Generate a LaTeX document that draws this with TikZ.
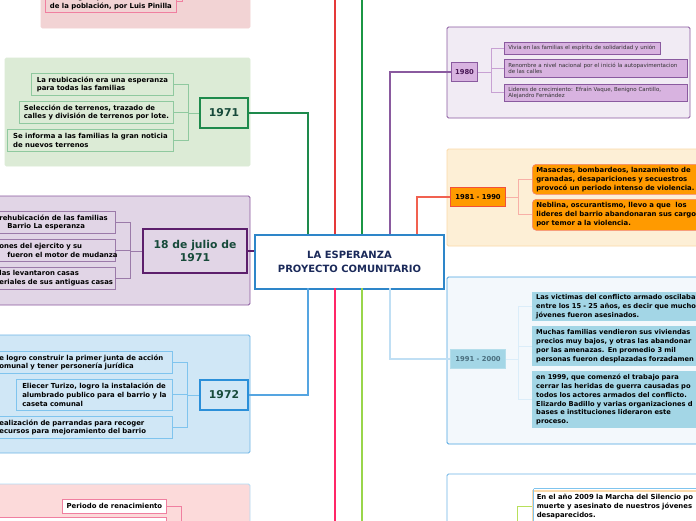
\documentclass[tikz,border=0pt]{standalone}
\usepackage{fontspec}
\setmainfont{DejaVu Sans}
\usetikzlibrary{positioning}
\definecolor{gdark}{HTML}{1E8A4C}
\definecolor{gbg}{HTML}{DCEBD6}
\definecolor{gbord}{HTML}{8FC99F}
\definecolor{pdark}{HTML}{5C1E6C}
\definecolor{pbg}{HTML}{E1D5E6}
\definecolor{pbord}{HTML}{9B7AA9}
\definecolor{bdark}{HTML}{2A8FD9}
\definecolor{bbg}{HTML}{D0E7F6}
\definecolor{bbord}{HTML}{7FC4EE}
\definecolor{txtg}{HTML}{174A3A}
\definecolor{pinkbg}{HTML}{F2D3D4}
\definecolor{pinkbg2}{HTML}{FCDADA}
\definecolor{pinkb}{HTML}{F07FA0}
\definecolor{lavbg}{HTML}{F1EBF4}
\definecolor{lavb}{HTML}{8A5A9F}
\definecolor{lavfill}{HTML}{D8B3E0}
\definecolor{orbg}{HTML}{FDEFD6}
\definecolor{orb}{HTML}{FBD9A8}
\definecolor{orfill}{HTML}{FF9A00}
\definecolor{orred}{HTML}{F0503C}
\definecolor{blbg}{HTML}{F3F8FC}
\definecolor{blb}{HTML}{4AA3E0}
\definecolor{blfill}{HTML}{A3D6E6}
\definecolor{yrtxt}{HTML}{4A6F7F}
\definecolor{mainb}{HTML}{2E86C9}
\definecolor{navy}{HTML}{1B2A5A}
\newcommand\clipline[1]{\makebox[0pt][l]{#1}}
\tikzset{
  base/.style={draw, inner xsep=4pt, inner ysep=2pt, align=left, anchor=north west,
    font=\fontsize{6.9}{8.8}\selectfont\bfseries, text=black},
  gchild/.style={base, draw=gbord, fill=gbg, line width=0.8pt},
  pchild/.style={base, draw=pbord, fill=pbg, line width=0.8pt},
  bchild/.style={base, draw=bbord, fill=bbg, line width=0.8pt},
  lchild/.style={base, draw=lavb, fill=lavfill, line width=0.6pt, font=\fontsize{5.5}{6.6}\selectfont, text=black!80},
  ochild/.style={base, draw=orred!70, fill=orfill, line width=0.6pt, rounded corners=4pt},
  cchild/.style={base, draw=none, fill=blfill, font=\fontsize{6.7}{8.8}\selectfont\bfseries},
  yearbox/.style={draw, anchor=north west, inner sep=0pt, align=center, line width=2pt,
    font=\fontsize{10.8}{13}\selectfont\bfseries, text=txtg},
  smallyear/.style={draw, anchor=north west, inner sep=0pt, align=center, line width=1pt,
    font=\fontsize{6.8}{8}\selectfont\bfseries},
  panel/.style={rounded corners=1.5pt, line width=0.8pt},
  mline/.style={line width=1.5pt},
  brk/.style={line width=1pt},
}
\begin{document}
\begin{tikzpicture}[x=1pt,y=-1pt]
\useasboundingbox (0,0) rectangle (696,520);
\fill[white] (0,0) rectangle (696,520);
\clip (0,0) rectangle (696,520);

% ---------- panels ----------
\draw[panel, fill=pinkbg, draw=pinkbg] (41,-10) rectangle (250,28);
\draw[panel, fill=gbg, draw=gbg] (5,58) rectangle (250,166);
\draw[panel, fill=pbg, draw=lavb] (-5,196) rectangle (250,305);
\draw[panel, fill=bbg, draw=blb!80] (-5,335) rectangle (250,453);
\draw[panel, fill=pinkbg2, draw=bbord!60] (-5,484) rectangle (250,530);
\draw[panel, fill=lavbg, draw=lavb] (447,27) rectangle (690,118);
\draw[panel, fill=orbg, draw=orb] (447,149) rectangle (705,246);
\draw[panel, fill=blbg, draw=blb] (447,277) rectangle (705,444);
\draw[panel, fill=white, draw=blb!80] (447,474) rectangle (705,530);

% ---------- central node ----------
\node[draw=mainb, line width=2pt, fill=white, anchor=north west, minimum width=189pt, minimum height=54pt,
  inner sep=0pt, align=center, font=\fontsize{10}{14}\selectfont\bfseries, text=navy]
  (main) at (254,234) {LA ESPERANZA\\PROYECTO COMUNITARIO};

% ---------- top-left pink ----------
\node[base, draw=pinkb, fill=pinkbg, line width=0.8pt, minimum width=131pt, minimum height=22pt, anchor=south west]
  (tl) at (45,13) {estrategias para reubicación\\de la población, por Luis Pinilla};
\draw[brk, pinkb] (tl.east) -| (182,-5) coordinate (tlup);

% ---------- 1971 ----------
\node[yearbox, draw=gdark, fill=gbg, minimum width=48pt, minimum height=30pt] (y1971) at (199,97) {1971};
\node[gchild, minimum width=142pt, minimum height=22pt] (g1) at (31,73) {La reubicación era una esperanza\\para todas las familias};
\node[gchild, minimum width=154pt, minimum height=22pt] (g2) at (19,101) {Selección de terrenos, trazado de\\calles y división de terrenos por lote.};
\node[gchild, minimum width=166pt, minimum height=22pt] (g3) at (7,129) {Se informa a las familias la gran noticia\\de nuevos terrenos};
\draw[brk, gbord] (y1971.west) -- ++(-11,0) coordinate (gb);
\foreach \c in {g1,g2,g3} \draw[brk, gbord] (gb) |- (\c.east);

% ---------- 18 de julio ----------
\node[yearbox, draw=pdark, fill=pbg, minimum width=104pt, minimum height=44pt] (y18) at (142,228) {18 de julio de\\1971};
\node[pchild, text width=112pt, minimum height=22pt] (p1) at (-5,211) {\clipline{rehubicación de las familias}\\\clipline{\hspace*{8pt}Barrio La esperanza}};
\node[pchild, text width=112pt, minimum height=22pt] (p2) at (-5,239) {\clipline{ones del ejercito y su}\\\clipline{\hspace*{8pt}fueron el motor de mudanza}};
\node[pchild, text width=112pt, minimum height=22pt] (p3) at (-5,267) {\clipline{las levantaron casas}\\\clipline{eriales de sus antiguas casas}};
\draw[brk, pbord] (y18.west) -- ++(-12,0) coordinate (pb);
\foreach \c in {p1,p2,p3} \draw[brk, pbord] (pb) |- (\c.east);
\draw[mline, pdark] (y18.east) -- (y18.east -| main.west);

% ---------- 1972 ----------
\node[yearbox, draw=bdark, fill=bbg, minimum width=48pt, minimum height=30pt] (y1972) at (199,379) {1972};
\node[bchild, text width=169pt, minimum height=22pt] (b1) at (-5,351) {\clipline{e logro construir la primer junta de acción}\\\clipline{omunal y tener personería jurídica}};
\node[bchild, minimum width=156pt, minimum height=31pt] (b2) at (16,379) {Eliecer Turizo, logro la instalación de\\alumbrado publico para el barrio y la\\caseta comunal};
\node[bchild, text width=169pt, minimum height=22pt] (b3) at (-5,416) {\clipline{ealización de parrandas para recoger}\\\clipline{ecursos para mejoramiento del barrio}};
\draw[brk, bbord] (y1972.west) -- ++(-12,0) coordinate (bb);
\foreach \c in {b1,b2,b3} \draw[brk, bbord] (bb) |- (\c.east);

% ---------- bottom-left pink ----------
\node[base, draw=pinkb, fill=white, line width=0.8pt, minimum width=104pt, minimum height=14pt, inner ysep=0pt, align=center]
  (ren) at (62,499) {Periodo de renacimiento};
\node[base, draw=pinkb, fill=white, line width=0.8pt, minimum width=171pt, minimum height=20pt] (ren2) at (-5,517) {};
\draw[brk, pinkb] (ren.east) -| (181,525);

% ---------- 1980 ----------
\node[smallyear, draw=lavb, fill=lavfill, text=pdark!80!black, minimum width=26pt, minimum height=19pt] (y1980) at (451,62) {1980};
\node[lchild, text width=148pt, minimum height=12pt, inner ysep=1pt] (l1) at (504,42) {\clipline{Vivia en las familias el espíritu de solidaridad y unión}};
\node[lchild, text width=175pt, minimum height=18pt, inner ysep=1pt] (l2) at (504,59) {\clipline{Renombre a nivel nacional por el inició la autopavimentacion}\\de las calles};
\node[lchild, text width=175pt, minimum height=17pt, inner ysep=1pt] (l3) at (504,84) {\clipline{Lideres de crecimiento: Efraín Vaque, Benigno Cantillo,}\\Alejandro Fernández};
\draw[brk, lavfill!80!lavb] (y1980.east) -- ++(13,0) coordinate (lb);
\foreach \c in {l1,l2,l3} \draw[brk, lavfill!80!lavb] (lb) |- (\c.west);

% ---------- 1981-1990 ----------
\node[smallyear, draw=orred, fill=orfill, text=black, minimum width=55pt, minimum height=19pt] (y1981) at (450,187) {1981 - 1990};
\node[ochild, text width=200pt, minimum height=30pt] (o1) at (532,164) {Masacres, bombardeos, lanzamiento de\\granadas, desapariciones y secuestros\\provocó un periodo intenso de violencia.};
\node[ochild, text width=200pt, minimum height=31pt] (o2) at (532,199) {Neblina, oscurantismo, llevo a que\ \ los\\lideres del barrio abandonaran sus cargo\\por temor a la violencia.};
\draw[brk, orred!45] (y1981.east) -- ++(12,0) coordinate (ob);
\foreach \c in {o1,o2} \draw[brk, orred!45] (ob) |- (\c.west);

% ---------- 1991-2000 ----------
\node[smallyear, draw=blfill!80!white, fill=blfill, text=yrtxt, minimum width=55pt, minimum height=19pt] (y1991) at (450,349) {1991 - 2000};
\node[cchild, text width=200pt, minimum height=29pt] (c1) at (532,292) {Las victimas del conflicto armado oscilaba\\entre los 15 - 25 años, es decir que muchos\\jóvenes fueron asesinados.};
\node[cchild, text width=200pt, minimum height=40pt] (c2) at (532,326) {Muchas familias vendieron sus viviendas\\precios muy bajos, y otras las abandonar\\por las amenazas. En promedio 3 mil\\personas fueron desplazadas forzadamen};
\node[cchild, text width=200pt, minimum height=57pt] (c3) at (532,371) {en 1999, que comenzó el trabajo para\\cerrar las heridas de guerra causadas po\\todos los actores armados del conflicto.\\Elizardo Badillo y varias organizaciones d\\bases e instituciones lideraron este\\proceso.};
\draw[brk, blb!20] (y1991.east) -- ++(12,0) coordinate (cb);
\foreach \c in {c1,c2,c3} \draw[brk, blb!20] (cb) |- (\c.west);

% ---------- bottom-right ----------
\coordinate (gd) at (517,525);
\node[base, draw=orb, fill=white, line width=1.5pt, text width=200pt, minimum height=31pt] (e1) at (532,490)
  {En el año 2009 la Marcha del Silencio po\\muerte y asesinato de nuestros jóvenes\\desaparecidos.};
\draw[bbord, line width=0.6pt] ([shift={(1.5,-1.5)}]e1.north west) -- ([shift={(1.5,8)}]e1.south west);
\draw[bbord, line width=0.6pt] ([shift={(1.5,-1.5)}]e1.north west) -- ([shift={(-1,-1.5)}]e1.north east);
\draw[brk, yellow!60!green!70!white] (gd) |- (e1.west);

% ---------- main connectors ----------
\coordinate (a308) at (308,234);
\coordinate (a335) at (335,234);
\coordinate (a362) at (362,234);
\coordinate (a390) at (390,234);
\coordinate (a417) at (417,234);
\coordinate (t335) at (335,-5);
\coordinate (t362) at (362,-5);
\coordinate (d308) at (308,288);
\coordinate (d335) at (335,288);
\coordinate (d362) at (362,288);
\coordinate (d390) at (390,288);
\coordinate (e335) at (335,525);
\coordinate (e362) at (362,525);
\draw[mline, gdark] (y1971.east) -| (a308);
\draw[mline, red!75!white!90!black] (t335) -- (a335);
\draw[mline, gdark!90!green] (t362) -- (a362);
\draw[mline, lavb] (y1980.west) -| (a390);
\draw[mline, orred!90!white] (y1981.west) -| (a417);
\draw[mline, bdark!80!white] (y1972.east) -| (d308);
\draw[mline, red!70!magenta!85!white] (d335) -- (e335);
\draw[mline, yellow!50!green!80!white] (d362) -- (e362);
\draw[mline, blb!35] (y1991.west) -| (d390);
\end{tikzpicture}
\end{document}
